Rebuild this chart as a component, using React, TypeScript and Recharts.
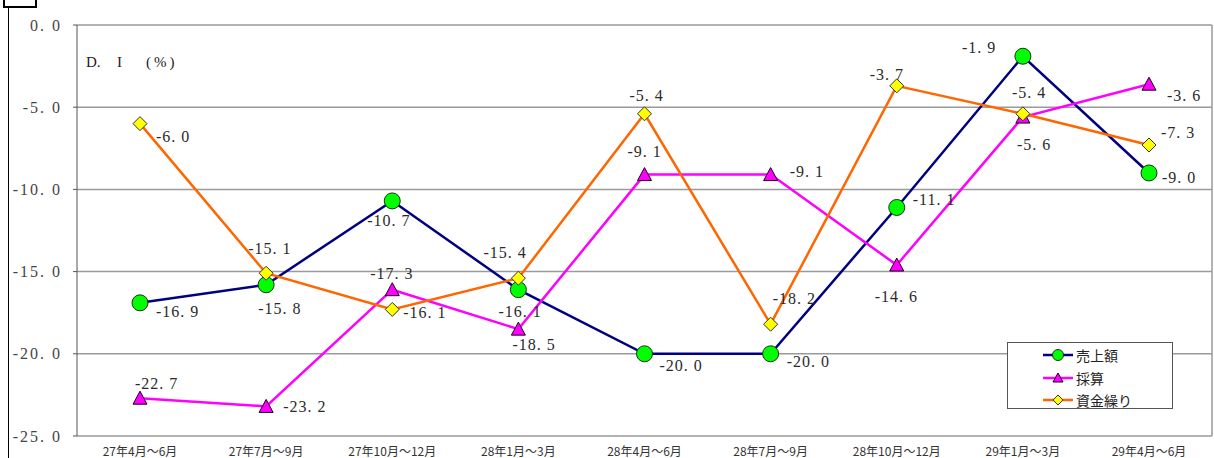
import React from 'react';
import { LineChart, Line, XAxis, YAxis, CartesianGrid, LabelList, Legend } from 'recharts';

// ---- data ----
const categories = [
  '27年4月～6月',
  '27年7月～9月',
  '27年10月～12月',
  '28年1月～3月',
  '28年4月～6月',
  '28年7月～9月',
  '28年10月～12月',
  '29年1月～3月',
  '29年4月～6月',
];
const salesValues = [-16.9, -15.8, -10.7, -16.1, -20.0, -20.0, -11.1, -1.9, -9.0];
const profitValues = [-22.7, -23.2, -16.1, -18.5, -9.1, -9.1, -14.6, -5.6, -3.6];
const fundingValues = [-6.0, -15.1, -17.3, -15.4, -5.4, -18.2, -3.7, -5.4, -7.3];

// data label texts as printed on the chart
const salesLabels = ['-16.9', '-15.8', '-10.7', '-16.1', '-20.0', '-20.0', '-11.1', '-1.9', '-9.0'];
const profitLabels = ['-22.7', '-23.2', '-17.3', '-18.5', '-9.1', '-9.1', '-14.6', '-5.6', '-3.6'];
const fundingLabels = ['-6.0', '-15.1', '-16.1', '-15.4', '-5.4', '-18.2', '-3.7', '-5.4', '-7.3'];

const seriesNames = ['売上額', '採算', '資金繰り'];
const yTicks = [0, -5, -10, -15, -20, -25];

// ---- layout / style ----
const salesOffsets = [[16, 9], [-8, 24], [-25, 19], [-20, 22], [15, 12], [16, 8], [16, -8], [-61, -9], [13, 4]];
const profitOffsets = [[-5, -15], [17, 0], [-22, -16], [-6, 15], [-17, -23], [19, -3], [-22, 31], [-6, 27], [18, 11]];
const fundingOffsets = [[16, 13], [-18, -25], [11, 3], [-35, -26], [-15, -18], [2, -26], [-27, -11], [-11, -21], [12, -13]];

const HALF_BAND = 63;
const NAVY = '#000080';
const MAGENTA = '#ff00ff';
const ORANGE = '#ff6600';
const SERIF = "'Liberation Serif', 'DejaVu Serif', serif";
const JP = "'Noto Sans CJK JP', 'Noto Sans', sans-serif";

const data = categories.map((c, i) => ({
  cat: c,
  sales: salesValues[i],
  profit: profitValues[i],
  funding: fundingValues[i],
}));

const Circle = ({ cx, cy }: { cx: number; cy: number }) => (
  <circle cx={cx} cy={cy} r={8} fill="#00ff00" stroke="#1a331a" strokeWidth={1} />
);
const Tri = ({ cx, cy }: { cx: number; cy: number }) => (
  <polygon points={`${cx},${cy - 7} ${cx - 7},${cy + 6} ${cx + 7},${cy + 6}`} fill={MAGENTA} stroke="#1a001a" strokeWidth={1} />
);
const Diamond = ({ cx, cy }: { cx: number; cy: number }) => (
  <polygon points={`${cx},${cy - 7} ${cx + 7},${cy} ${cx},${cy + 7} ${cx - 7},${cy}`} fill="#ffff00" stroke="#333" strokeWidth={1} />
);

const makeDot = (Shape: any) => (p: any) => <Shape key={`d${p.index}`} cx={p.cx} cy={p.cy} />;

const makeLabel = (texts: string[], offsets: number[][]) => (props: any) => {
  const { x, y, index } = props;
  const [dx, dy] = offsets[index];
  return (
    <text
      key={`l${index}`}
      x={x + dx}
      y={y + dy}
      dy="0.35em"
      fontFamily={SERIF}
      fontSize={16}
      letterSpacing={1}
      fill="#2a2a2a"
    >
      {texts[index].replace('.', '. ')}
    </text>
  );
};

const TopTick = (props: any) => {
  const { x, y } = props;
  return (
    <g>
      <line x1={x} y1={y} x2={x} y2={y + 4} stroke="#777" strokeWidth={1} />
      <line x1={x + HALF_BAND} y1={y} x2={x + HALF_BAND} y2={y - 4} stroke="#777" strokeWidth={1} />
    </g>
  );
};

const legendItems = [
  { name: seriesNames[0], color: NAVY },
  { name: seriesNames[1], color: MAGENTA },
  { name: seriesNames[2], color: ORANGE },
];

const LegendBox = () => (
  <div
    style={{
      position: 'relative',
      width: 166,
      height: 67,
      boxSizing: 'border-box',
      border: '1px solid #555',
      background: '#fff',
    }}
  >
    {legendItems.map((it, i) => (
      <div key={it.name} style={{ position: 'absolute', left: 33, top: 2 + i * 22.5, height: 20, display: 'flex', alignItems: 'center' }}>
        <svg width={34} height={20}>
          <line x1={2} y1={10} x2={32} y2={10} stroke={it.color} strokeWidth={2.5} />
          {i === 0 ? (
            <circle cx={17} cy={10} r={5.5} fill="#00ff00" stroke="#1a331a" strokeWidth={1} />
          ) : i === 1 ? (
            <polygon points="17,5 12,14 22,14" fill={MAGENTA} stroke="#1a001a" strokeWidth={1} />
          ) : (
            <polygon points="17,5 22,10 17,15 12,10" fill="#ffff00" stroke="#333" strokeWidth={1} />
          )}
        </svg>
        <span style={{ fontFamily: JP, fontSize: 14, color: '#222', marginLeft: 1, lineHeight: '20px' }}>{it.name}</span>
      </div>
    ))}
  </div>
);

export default function App() {
  return (
    <div style={{ position: 'absolute', left: 0, top: 0, width: 1214, height: 458, background: '#fff', overflow: 'hidden' }}>
      {/* page frame fragments */}
      <div style={{ position: 'absolute', left: 3, top: -6, width: 30, height: 10, border: '2px solid #000' }} />
      <div style={{ position: 'absolute', left: 8, top: 8, width: 1, height: 460, background: '#000' }} />
      <LineChart width={1214} height={458} data={data} margin={{ top: 25, right: 2, bottom: 0, left: 0 }}>
        <CartesianGrid
          stroke="#9a9a9a"
          strokeWidth={1.5}
          horizontal={true}
          vertical={true}
          verticalCoordinatesGenerator={({ offset }: any) => [offset.left + offset.width]}
        />
        <XAxis
          dataKey="cat"
          height={22}
          padding={{ left: HALF_BAND, right: HALF_BAND }}
          axisLine={false}
          tickLine={false}
          tickSize={0}
          tickMargin={11}
          interval={0}
          tick={{ fontFamily: JP, fontSize: 12, fill: '#333' }}
        />
        <XAxis
          xAxisId="top"
          dataKey="cat"
          orientation="top"
          height={0}
          padding={{ left: HALF_BAND, right: HALF_BAND }}
          axisLine={{ stroke: '#888', strokeWidth: 1.5 }}
          tickLine={false}
          tickSize={0}
          tickMargin={0}
          interval={0}
          tick={TopTick}
        />
        <YAxis
          width={77}
          domain={[-25, 0]}
          ticks={yTicks}
          interval={0}
          axisLine={{ stroke: '#555', strokeWidth: 1 }}
          tickLine={{ stroke: '#555' }}
          tickSize={4}
          tickMargin={11}
          tickFormatter={(v: number) => v.toFixed(1).replace('.', '. ')}
          tick={{ fontFamily: SERIF, fontSize: 16, fill: '#444', letterSpacing: 2 }}
        />
        <Legend
          layout="vertical"
          align="center"
          verticalAlign="middle"
          wrapperStyle={{ position: 'absolute', left: 1007, top: 342, width: 166, height: 67 }}
          content={() => <LegendBox />}
        />
        <Line
          dataKey="sales"
          name={seriesNames[0]}
          stroke={NAVY}
          strokeWidth={2.5}
          dot={makeDot(Circle)}
          activeDot={false}
          isAnimationActive={false}
        >
          <LabelList dataKey="sales" content={makeLabel(salesLabels, salesOffsets)} />
        </Line>
        <Line
          dataKey="profit"
          name={seriesNames[1]}
          stroke={MAGENTA}
          strokeWidth={2.5}
          dot={makeDot(Tri)}
          activeDot={false}
          isAnimationActive={false}
        >
          <LabelList dataKey="profit" content={makeLabel(profitLabels, profitOffsets)} />
        </Line>
        <Line
          dataKey="funding"
          name={seriesNames[2]}
          stroke={ORANGE}
          strokeWidth={2.5}
          dot={makeDot(Diamond)}
          activeDot={false}
          isAnimationActive={false}
        >
          <LabelList dataKey="funding" content={makeLabel(fundingLabels, fundingOffsets)} />
        </Line>
      </LineChart>
      <div style={{ position: 'absolute', left: 0, top: 0, width: 1214, height: 458, pointerEvents: 'none', fontFamily: SERIF, fontSize: 15, color: '#222' }}>
        <span style={{ position: 'absolute', left: 86, top: 54 }}>D.</span>
        <span style={{ position: 'absolute', left: 117, top: 54 }}>I</span>
        <span style={{ position: 'absolute', left: 146, top: 54, letterSpacing: 3 }}>(%)</span>
      </div>
    </div>
  );
}
